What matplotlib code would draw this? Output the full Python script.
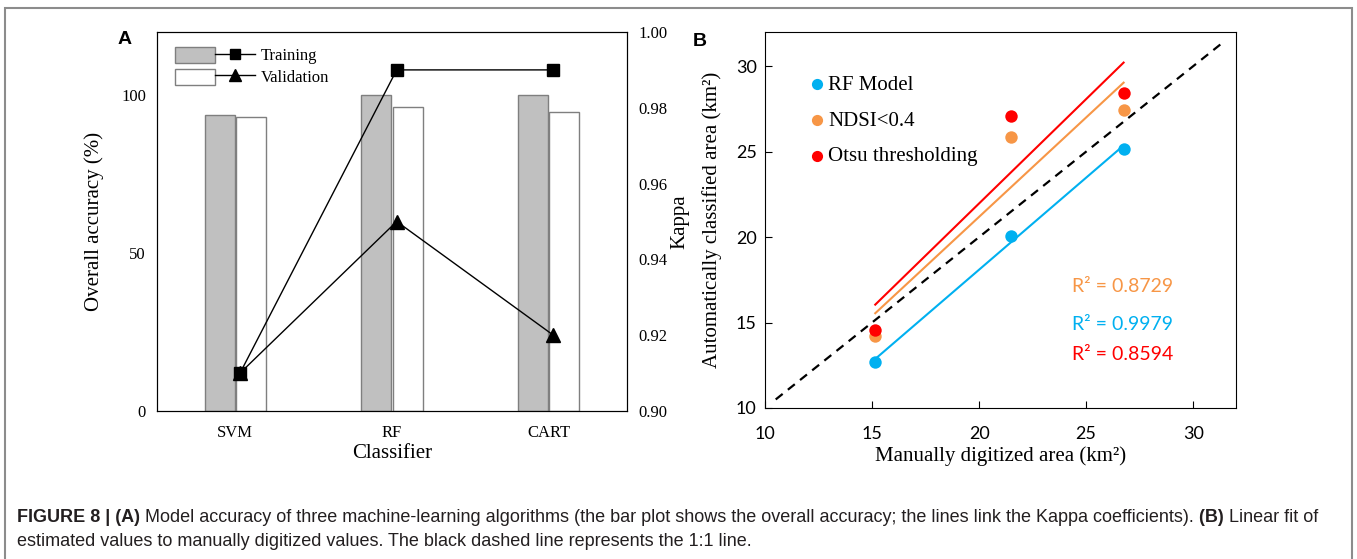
import matplotlib
matplotlib.use('Agg')
import matplotlib.pyplot as plt
import matplotlib.patches as mpatches
from matplotlib.lines import Line2D
from matplotlib.legend_handler import HandlerTuple
import numpy as np

# panel A data
classifiers = ['SVM', 'RF', 'CART']
oa_training = [93.8, 100.0, 99.9]
oa_validation = [93.2, 96.2, 94.6]
kappa_training = [0.910, 0.990, 0.990]
kappa_validation = [0.910, 0.950, 0.920]

# panel B data
digitized = [15.15, 21.5, 26.75]
rf_area = [12.72, 20.04, 25.18]
ndsi_area = [14.21, 25.88, 27.42]
otsu_area = [14.56, 27.09, 28.41]
method_names = ['RF Model', 'NDSI<0.4', 'Otsu thresholding']
r2_labels = ['R² = 0.9979', 'R² = 0.8729', 'R² = 0.8594']

W, H = 1357, 559
SERIF = 'Liberation Serif'
SANS = 'Liberation Sans'
CAL = 'Lato'

fig = plt.figure(figsize=(W / 100, H / 100), dpi=100)


def fbox(l, t, r, b):
    return [l / W, 1 - b / H, (r - l) / W, (b - t) / H]


# ---------------- panel A ----------------
ax = fig.add_axes(fbox(157, 32, 627, 411))
x = np.arange(len(classifiers))
bw = 0.19
ax.bar(x - 0.10, oa_training, bw, color='#c0c0c0', edgecolor='#7f7f7f', lw=1, zorder=2)
ax.bar(x + 0.10, oa_validation, bw, color='white', edgecolor='#7f7f7f', lw=1, zorder=2)
ax.set_xlim(-0.5, 2.5)
ax.set_ylim(0, 120)
ax.set_yticks([0, 50, 100])
ax.set_xticks(x)
ax.set_xticklabels(classifiers, fontfamily=SERIF, fontsize=12)
for lab in ax.get_yticklabels():
    lab.set_fontfamily(SERIF)
    lab.set_fontsize(12)
ax.tick_params(length=0, pad=8)
ax.tick_params(axis='x', pad=10)
ax.set_xlabel('Classifier', fontfamily=SERIF, fontsize=15, labelpad=2)
ax.set_ylabel('Overall accuracy (%)', fontfamily=SERIF, fontsize=15, labelpad=12)

ax2 = ax.twinx()
ax2.plot(x + 0.03, kappa_training, color='k', lw=1, marker='s', ms=8.5, zorder=3)
ax2.plot(x + 0.03, kappa_validation, color='k', lw=1, marker='^', ms=10.5, zorder=4)
ax2.set_ylim(0.90, 1.00)
ax2.set_yticks(np.arange(0.90, 1.001, 0.02))
ax2.set_yticklabels(['%.2f' % v for v in np.arange(0.90, 1.001, 0.02)], fontfamily=SERIF, fontsize=12)
ax2.tick_params(length=0, pad=8)
ax2.set_ylabel('Kappa', fontfamily=SERIF, fontsize=15, labelpad=2)

h_tr = (mpatches.Patch(facecolor='#c0c0c0', edgecolor='#7f7f7f'),
        Line2D([], [], color='k', lw=1, marker='s', ms=7))
h_va = (mpatches.Patch(facecolor='white', edgecolor='#7f7f7f'),
        Line2D([], [], color='k', lw=1, marker='^', ms=9))
leg = ax.legend([h_tr, h_va], ['Training', 'Validation'],
                handler_map={tuple: HandlerTuple(ndivide=None, pad=0)},
                loc='upper left', bbox_to_anchor=(0.0215, 0.983), frameon=False,
                prop={'family': SERIF, 'size': 12}, handlelength=4.8, handleheight=1.1,
                labelspacing=0.25, handletextpad=0.3, borderpad=0)

# ---------------- panel B ----------------
bx = fig.add_axes(fbox(765, 32, 1236, 408))
colors = ['#00b0f0', '#f79646', '#ff0000']
series = [rf_area, ndsi_area, otsu_area]
bx.plot([10.5, 31.5], [10.5, 31.5], color='k', lw=1.6, ls=(0, (4, 3)), zorder=1)
xd = np.array(digitized)
for ys, c in zip(series, colors):
    k, b = np.polyfit(xd, ys, 1)
    bx.plot([xd.min(), xd.max()], [k * xd.min() + b, k * xd.max() + b], color=c, lw=1.5, zorder=2)
for ys, c, name in zip(series, colors, method_names):
    bx.scatter(xd, ys, s=80, color=c, zorder=3, label=name, linewidths=0)
bx.set_xlim(10, 32)
bx.set_ylim(10, 32)
bx.set_xticks([10, 15, 20, 25, 30])
bx.set_yticks([10, 15, 20, 25, 30])
for lab in bx.get_xticklabels() + bx.get_yticklabels():
    lab.set_fontfamily(CAL)
    lab.set_fontsize(13)
bx.tick_params(direction='in', length=5, pad=6)
bx.tick_params(axis='x', pad=13)
bx.set_xlabel('Manually digitized area (km²)', fontfamily=SERIF, fontsize=15, labelpad=3)
bx.set_ylabel('Automatically classified area (km²)', fontfamily=SERIF, fontsize=15, labelpad=10)
bx.legend(loc='upper left', bbox_to_anchor=(0.070, 0.913), frameon=False,
          prop={'family': SERIF, 'size': 15}, handlelength=0.8, handletextpad=0.15,
          labelspacing=0.78, borderpad=0, scatterpoints=1, markerscale=0.9)

r2_y = [324, 286, 355]
for lab, c, yy in zip(r2_labels, colors, r2_y):
    fig.text(1072 / W, 1 - yy / H, lab, color=c, fontfamily=CAL, fontsize=14, va='center', ha='left')

# panel letters
fig.text(125 / W, 1 - 40 / H, 'A', fontfamily=SANS, fontweight='bold', fontsize=14, va='center', ha='center')
fig.text(700 / W, 1 - 42 / H, 'B', fontfamily=SANS, fontweight='bold', fontsize=14, va='center', ha='center')

# frame
frame = mpatches.Rectangle((5 / W, -0.05), (1352 - 5) / W, 1.05 - 8 / H, transform=fig.transFigure,
                           fill=False, edgecolor='#8c8c8c', lw=1.5, clip_on=False)
fig.add_artist(frame)

# caption
cap = fig.add_axes([0, 0, 1, 1], zorder=-1)
cap.axis('off')
cap_color = '#231f20'
line1 = [('FIGURE 8 | (A)', 'bold'),
         (' Model accuracy of three machine-learning algorithms (the bar plot shows the overall accuracy; the lines link the Kappa coefficients).', 'normal'),
         (' (B)', 'bold'), (' Linear fit of', 'normal')]
line2 = 'estimated values to manually digitized values. The black dashed line represents the 1:1 line.'
t = cap.text(17 / W, 1 - 522 / H, line1[0][0], fontfamily=SANS, fontweight=line1[0][1],
             fontsize=13, color=cap_color, va='baseline')
for s, w in line1[1:]:
    t = cap.annotate(s, xycoords=t, xy=(1, 0), va='bottom', fontfamily=SANS, fontweight=w,
                     fontsize=13, color=cap_color)
cap.text(17 / W, 1 - 546 / H, line2, fontfamily=SANS, fontsize=13, color=cap_color, va='baseline')

fig.savefig('out.png', dpi=100)
